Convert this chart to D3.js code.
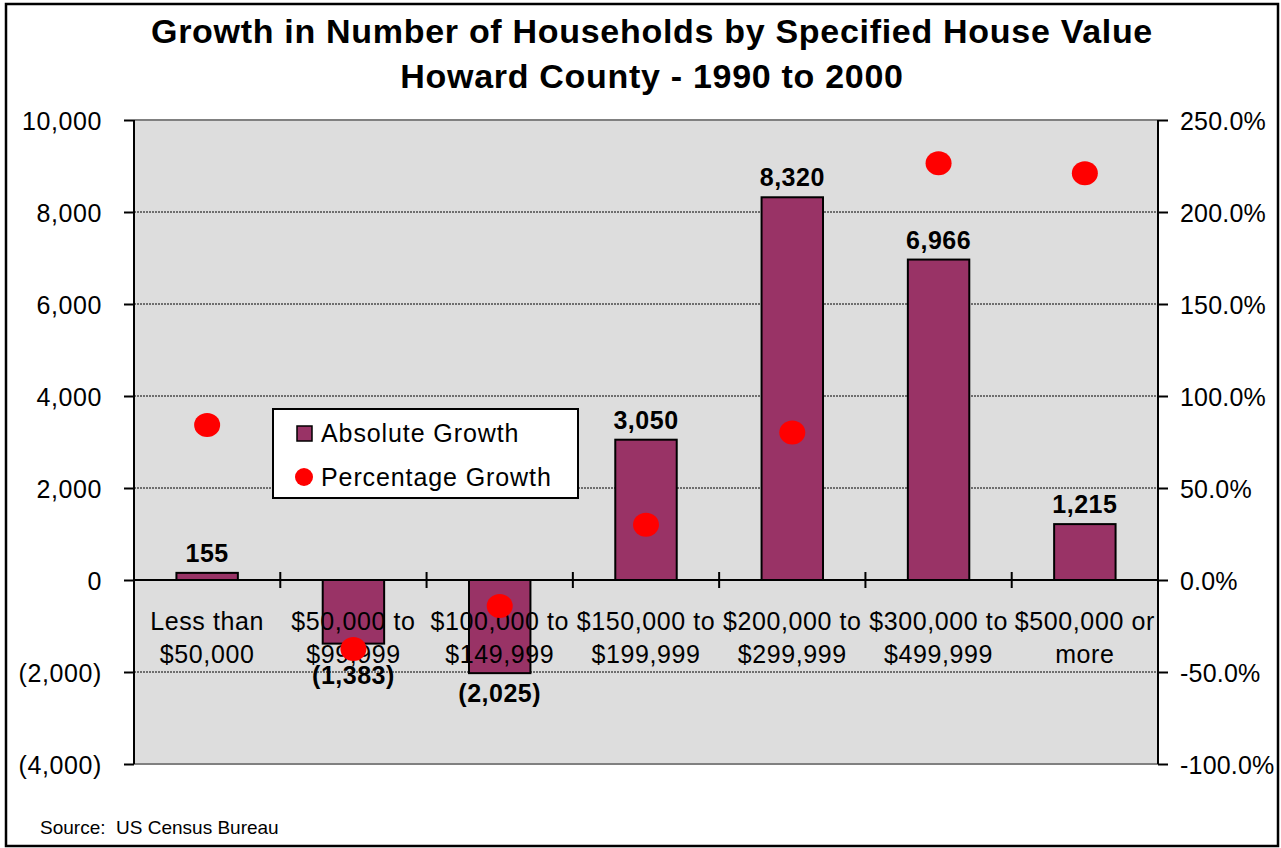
<!DOCTYPE html>
<html>
<head>
<meta charset="utf-8">
<script src="https://cdn.jsdelivr.net/npm/d3@7"></script>
<style>
  html, body { margin: 0; padding: 0; background: #fff; }
  svg { display: block; font-family: "Liberation Sans", Arial, sans-serif; }
</style>
</head>
<body>
<svg id="chart" width="1281" height="848"></svg>
<script>
// ---- Data ----
const categories = [
  ["Less than", "$50,000"],
  ["$50,000 to", "$99,999"],
  ["$100,000 to", "$149,999"],
  ["$150,000 to", "$199,999"],
  ["$200,000 to", "$299,999"],
  ["$300,000 to", "$499,999"],
  ["$500,000 or", "more"]
];
const absoluteGrowth = [155, -1383, -2025, 3050, 8320, 6966, 1215];
const percentageGrowth = [84.2, -37.5, -14.1, 30.0, 80.2, 226.5, 221.0];
const leftTicks = [-4000, -2000, 0, 2000, 4000, 6000, 8000, 10000];
const rightTicks = [-100, -50, 0, 50, 100, 150, 200, 250];
const titleLines = ["Growth in Number of Households by Specified House Value", "Howard County - 1990 to 2000"];
const legendLabels = ["Absolute Growth", "Percentage Growth"];
const sourceText = "Source:  US Census Bureau";

// ---- Layout ----
const svg = d3.select("#chart");
const plot = { left: 134, right: 1158, top: 120, bottom: 764 };
const barColor = "#993366";
const dotColor = "#FF0000";
const FS = 25, LS = "0.6px";

// outer border
svg.append("rect").attr("x", 6).attr("y", 4).attr("width", 1272).attr("height", 842)
  .attr("fill", "#fff").attr("stroke", "#000").attr("stroke-width", 2.5);

// titles
svg.selectAll("text.title").data(titleLines).enter().append("text")
  .attr("class", "title")
  .attr("x", 652).attr("y", (d, i) => 43 + i * 45)
  .attr("text-anchor", "middle")
  .attr("font-size", 34).attr("font-weight", "bold").attr("letter-spacing", "0.7px")
  .text(d => d);

// scales
const x = d3.scaleBand().domain(d3.range(categories.length))
  .range([plot.left, plot.right]).paddingInner(0).paddingOuter(0);
const y = d3.scaleLinear().domain([-4000, 10000]).range([plot.bottom, plot.top]);
const y2 = d3.scaleLinear().domain([-100, 250]).range([plot.bottom, plot.top]);

// plot background
svg.append("rect").attr("x", plot.left).attr("y", plot.top)
  .attr("width", plot.right - plot.left).attr("height", plot.bottom - plot.top)
  .attr("fill", "#DDDDDD");

// gridlines
svg.append("g").selectAll("line").data(leftTicks.filter(t => t !== 0 && t !== 10000 && t !== -4000))
  .enter().append("line")
  .attr("x1", plot.left).attr("x2", plot.right)
  .attr("y1", d => y(d)).attr("y2", d => y(d))
  .attr("stroke", "#000").attr("stroke-width", 1).attr("stroke-dasharray", "2,1");
[10000, -4000].forEach(v => {
  svg.append("line").attr("x1", plot.left).attr("x2", plot.right)
    .attr("y1", y(v)).attr("y2", y(v)).attr("stroke", "#808080").attr("stroke-width", 2);
});

// left axis
const leftAxis = d3.axisLeft(y).tickValues(leftTicks).tickSize(10).tickPadding(22)
  .tickFormat(d => d < 0 ? "(" + d3.format(",")(-d) + ")" : d3.format(",")(d));
const gl = svg.append("g").attr("transform", `translate(${plot.left},0)`).call(leftAxis);
gl.select(".domain").remove();
gl.selectAll(".tick line").attr("stroke", "#000").attr("stroke-width", 2);
gl.selectAll(".tick text").attr("font-size", FS).attr("letter-spacing", LS).attr("fill", "#000")
  .attr("font-family", "'Liberation Sans', Arial, sans-serif").attr("dy", "0.36em");
svg.append("line").attr("x1", plot.left).attr("x2", plot.left)
  .attr("y1", plot.top).attr("y2", plot.bottom).attr("stroke", "#000").attr("stroke-width", 2);

// right axis
const rightAxis = d3.axisRight(y2).tickValues(rightTicks).tickSize(10).tickPadding(12)
  .tickFormat(d => (d < 0 ? "-" : "") + Math.abs(d).toFixed(1) + "%");
const gr = svg.append("g").attr("transform", `translate(${plot.right},0)`).call(rightAxis);
gr.select(".domain").remove();
gr.selectAll(".tick line").attr("stroke", "#000").attr("stroke-width", 2);
gr.selectAll(".tick text").attr("font-size", FS).attr("letter-spacing", "0.2px").attr("fill", "#000")
  .attr("font-family", "'Liberation Sans', Arial, sans-serif").attr("dy", "0.36em");
svg.append("line").attr("x1", plot.right).attr("x2", plot.right)
  .attr("y1", plot.top).attr("y2", plot.bottom).attr("stroke", "#000").attr("stroke-width", 2);

// bars
const barW = x.bandwidth() * 0.42;
svg.append("g").selectAll("rect").data(absoluteGrowth).enter().append("rect")
  .attr("x", (d, i) => x(i) + (x.bandwidth() - barW) / 2)
  .attr("y", d => y(Math.max(0, d)))
  .attr("width", barW)
  .attr("height", d => Math.abs(y(d) - y(0)))
  .attr("fill", barColor).attr("stroke", "#000").attr("stroke-width", 2);

// zero axis line with ticks
svg.append("line").attr("x1", plot.left).attr("x2", plot.right)
  .attr("y1", y(0)).attr("y2", y(0)).attr("stroke", "#000").attr("stroke-width", 2);
svg.append("g").selectAll("line").data(d3.range(1, categories.length)).enter().append("line")
  .attr("x1", d => x(d)).attr("x2", d => x(d))
  .attr("y1", y(0) - 8).attr("y2", y(0) + 8)
  .attr("stroke", "#000").attr("stroke-width", 2);

// category labels (drawn over the bars, under zero line)
const catG = svg.append("g");
categories.forEach((lines, i) => {
  lines.forEach((ln, j) => {
    catG.append("text")
      .attr("x", x(i) + x.bandwidth() / 2)
      .attr("y", y(0) + 50 + j * 33)
      .attr("text-anchor", "middle").attr("font-size", FS).attr("letter-spacing", LS)
      .attr("fill", "#000")
      .text(ln);
  });
});

// percentage dots
svg.append("g").selectAll("ellipse").data(percentageGrowth).enter().append("ellipse")
  .attr("cx", (d, i) => x(i) + x.bandwidth() / 2)
  .attr("cy", d => y2(d))
  .attr("rx", 13).attr("ry", 12)
  .attr("fill", dotColor);

// value labels
const fmtVal = d => d < 0 ? "(" + d3.format(",")(-d) + ")" : d3.format(",")(d);
svg.append("g").selectAll("text").data(absoluteGrowth).enter().append("text")
  .attr("x", (d, i) => x(i) + x.bandwidth() / 2)
  .attr("y", d => d >= 0 ? y(d) - 11 : Math.max(y(d) + 29, y(0) + 104))
  .attr("text-anchor", "middle").attr("font-size", FS).attr("font-weight", "bold")
  .attr("letter-spacing", "0.5px").attr("fill", "#000")
  .text(fmtVal);

// legend
const lg = svg.append("g");
lg.append("rect").attr("x", 273).attr("y", 409).attr("width", 305).attr("height", 89)
  .attr("fill", "#fff").attr("stroke", "#000").attr("stroke-width", 2);
lg.append("rect").attr("x", 297).attr("y", 426).attr("width", 15).attr("height", 15)
  .attr("fill", barColor).attr("stroke", "#000").attr("stroke-width", 1.5);
lg.append("ellipse").attr("cx", 304).attr("cy", 477).attr("rx", 9).attr("ry", 9).attr("fill", dotColor);
legendLabels.forEach((t, i) => {
  lg.append("text").attr("x", 321).attr("y", 442 + i * 44)
    .attr("font-size", FS).attr("letter-spacing", "0.9px").attr("fill", "#000").text(t);
});

// source
svg.append("text").attr("x", 40).attr("y", 834).attr("font-size", 19)
  .attr("xml:space", "preserve").style("white-space", "pre").attr("fill", "#000")
  .text(sourceText);
</script>
</body>
</html>
